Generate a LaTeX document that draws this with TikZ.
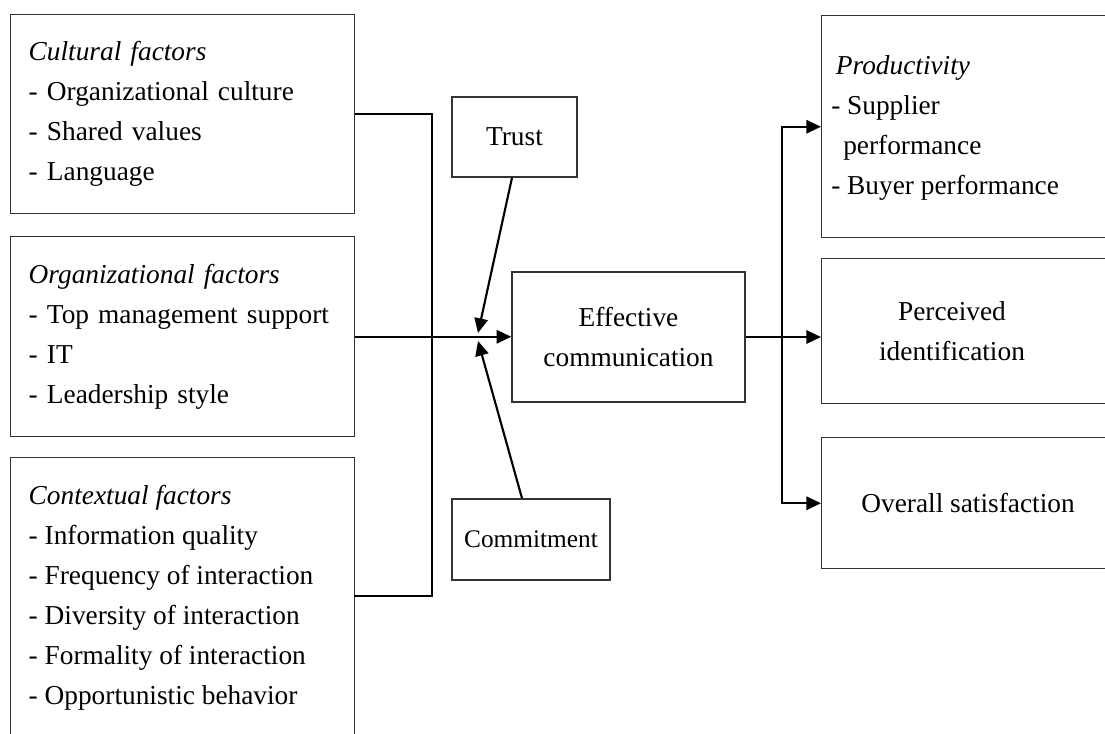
\documentclass[tikz,border=0pt]{standalone}
\usepackage{fontspec}
\setmainfont{Liberation Serif}
\usetikzlibrary{arrows.meta,calc}
\begin{document}
\begin{tikzpicture}[x=0.75pt,y=-0.75pt,
  box/.style={draw=black!80, line width=1.1pt, rectangle, inner sep=0pt},
  txt/.style={font=\fontsize{20.5}{30}\selectfont, align=center, inner sep=0pt},
  leftbox/.style={box, txt, align=left, text width=231pt, inner xsep=13.5pt, anchor=north west},
  conn/.style={line width=1.6pt, black},
  tipped/.style={-{Triangle[length=11pt,width=10pt]}}]
  \useasboundingbox (0,0) rectangle (1105,733);
  \fill[white] (0,0) rectangle (1105,733);
  \clip (0,0) rectangle (1105,733);

  % left boxes
  \node[leftbox, minimum height=149.25pt] (cult) at (10,14)
    {\textit{Cultural factors}\\- Organizational culture\\- Shared values\\- Language};
  \node[leftbox, minimum height=150pt] (org) at (10,236)
    {\textit{Organizational factors}\\- Top management support\\- IT\\- Leadership style};
  \node[box, txt, align=left, inner xsep=13.5pt, inner ysep=21pt, anchor=north west] (ctx) at (10,457)
    {\parbox[t][260pt][t]{231pt}{\textit{Contextual factors}\\- Information quality\\- Frequency of interaction\\- Diversity of interaction\\- Formality of interaction\\- Opportunistic behavior}};

  % middle boxes
  \node[box, txt, minimum width=93.75pt, minimum height=60pt] (trust) at (514.5,137) {Trust};
  \node[box, txt, font=\fontsize{19}{26}\selectfont, minimum width=118.5pt, minimum height=60.75pt] (comm) at (531,539.5) {Commitment};
  \node[box, txt, minimum width=174.75pt, minimum height=97.5pt] (eff) at (628.5,337) {Effective\\communication};

  % right boxes
  \node[box, minimum width=239.25pt, minimum height=166.5pt, anchor=north west] (prod) at (821,15) {};
  \node[txt, align=left, anchor=west] (prodt) at (831,128)
    {\hspace*{3.5pt}\textit{Productivity}\\- Supplier\\\hspace*{9pt}performance\\- Buyer performance};
  \node[box, minimum width=239.25pt, minimum height=108.75pt, anchor=north west] (perc) at (821,258) {};
  \node[txt] (perct) at (952,331) {Perceived\\identification};
  \node[box, minimum width=239.25pt, minimum height=98.25pt, anchor=north west] (over) at (821,437) {};
  \node[txt] (overt) at (968,502.5) {Overall satisfaction};

  % connectors
  \coordinate (jl) at (432,337);
  \coordinate (c3) at (354,596);
  \draw[conn] (cult.east) -| (jl) |- (c3);
  \draw[conn, tipped] (org.east) -- (org.east -| eff.west);
  \coordinate (tipT) at (478,333);
  \coordinate (tipC) at (478,341);
  \draw[conn, tipped] ($(trust.south)+(-2.5,0)$) -- (tipT);
  \draw[conn, tipped] ($(comm.north)+(-9,0)$) -- (tipC);

  \coordinate (jr) at (782,337);
  \draw[conn, tipped] (eff.east) -- (eff.east -| perc.west);
  \draw[conn, {Triangle[length=11pt,width=10pt]}-{Triangle[length=11pt,width=10pt]}] (prod.west) -| (jr) |- (over.west);
\end{tikzpicture}
\end{document}
